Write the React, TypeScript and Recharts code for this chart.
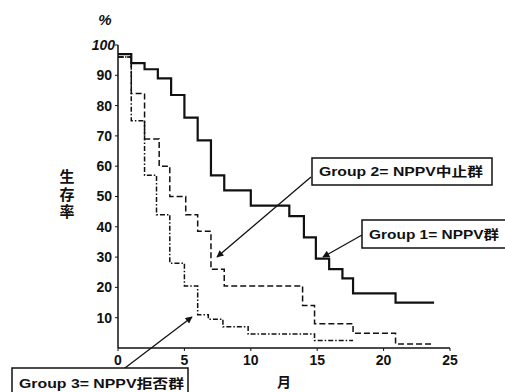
import { LineChart, Line, XAxis, YAxis } from "recharts";

// Kaplan-Meier style survival curves (months vs %)
const group1Months = [0, 1, 2, 3, 4, 5, 6, 7, 8, 10, 12.9, 14, 14.9, 15.9, 16.9, 17.7, 20.9, 23.8];
const group1Survival = [97, 94, 92, 89, 83.5, 76, 68.5, 57, 52, 47, 43.5, 36.5, 29.5, 26, 23, 18, 15, 15];

const group2Months = [0, 1, 2, 3.1, 3.9, 5.1, 6, 7, 8, 13.9, 14.8, 17.7, 20.9, 23.8];
const group2Survival = [96, 84, 69, 60, 50, 44, 38.5, 26, 20.5, 14, 8, 4.9, 1.3, 1.3];

const group3Months = [0, 1, 2, 2.9, 3.9, 5, 6, 6.8, 7.9, 9.8, 14.8, 17.7];
const group3Survival = [96, 75, 57, 44, 28, 20.5, 11, 9.5, 7, 4.6, 2.5, 2.5];

const xTicks = [0, 5, 10, 15, 20, 25];
const yTicks = [10, 20, 30, 40, 50, 60, 70, 80, 90, 100];

const toPoints = (months: number[], values: number[]) =>
  months.map((m, i) => ({ m, v: values[i] }));

const group1 = toPoints(group1Months, group1Survival);
const group2 = toPoints(group2Months, group2Survival);
const group3 = toPoints(group3Months, group3Survival);

const INK = "#111";
const FONT = "'Liberation Sans', Arial, sans-serif";
const CJK = "'Liberation Sans', 'Noto Sans CJK JP', sans-serif";

const YTick = (props: any) => {
  const { x, y, payload } = props;
  const top = payload.value === 100;
  return (
    <text
      x={top ? x + 3 : x}
      y={y}
      dy="0.35em"
      textAnchor="end"
      fill={INK}
      fontFamily={FONT}
      fontSize={14}
      fontWeight="bold"
      fontStyle={top ? "italic" : "normal"}
    >
      {payload.value}
    </text>
  );
};

const Arrow = ({ x1, y1, x2, y2 }: { x1: number; y1: number; x2: number; y2: number }) => (
  <line x1={x1} y1={y1} x2={x2} y2={y2} stroke={INK} strokeWidth={1.3} markerEnd="url(#head)" />
);

const Box = ({ x, y, w, h, text, tw }: { x: number; y: number; w: number; h: number; text: string; tw: number }) => (
  <g>
    <rect x={x} y={y} width={w} height={h} fill="#fff" stroke={INK} strokeWidth={1.5} />
    <text
      x={x + 7}
      y={y + h / 2}
      dy="0.36em"
      fontFamily={CJK}
      fontSize={13}
      fontWeight="bold"
      fill={INK}
      textLength={tw}
      lengthAdjust="spacingAndGlyphs"
    >
      {text}
    </text>
  </g>
);

export default function App() {
  return (
    <div style={{ position: "absolute", left: 0, top: 0, width: 505, height: 392, background: "#fff" }}>
      <LineChart width={505} height={392} margin={{ top: 45, right: 55, bottom: 0, left: 0 }}>
        <XAxis
          type="number"
          dataKey="m"
          domain={[0, 25]}
          ticks={xTicks}
          allowDataOverflow
          height={44}
          tickSize={3}
          tickMargin={4}
          axisLine={{ stroke: INK, strokeWidth: 1.5 }}
          tickLine={{ stroke: INK }}
          tick={{ fill: INK, fontSize: 14, fontWeight: "bold", fontFamily: FONT }}
        />
        <YAxis
          type="number"
          domain={[0, 100]}
          ticks={yTicks}
          width={118}
          tickSize={3}
          tickMargin={3}
          axisLine={{ stroke: INK, strokeWidth: 1.5 }}
          tickLine={{ stroke: INK }}
          tick={<YTick />}
        />
        <Line data={group1} dataKey="v" type="stepAfter" stroke={INK} strokeWidth={2.2} dot={false} isAnimationActive={false} />
        <Line data={group2} dataKey="v" type="stepAfter" stroke={INK} strokeWidth={1.5} strokeDasharray="6 3" dot={false} isAnimationActive={false} />
        <Line data={group3} dataKey="v" type="stepAfter" stroke={INK} strokeWidth={1.5} strokeDasharray="5 2 1.5 2" dot={false} isAnimationActive={false} />
      </LineChart>

      <svg width={505} height={392} style={{ position: "absolute", left: 0, top: 0, pointerEvents: "none" }}>
        <defs>
          <marker id="head" viewBox="0 0 10 10" refX="9" refY="5" markerWidth="9" markerHeight="7" orient="auto-start-reverse" markerUnits="userSpaceOnUse">
            <path d="M0,0 L10,5 L0,10 z" fill={INK} />
          </marker>
        </defs>
        <text x={105} y={25} textAnchor="middle" fontFamily={FONT} fontSize={15} fontWeight="bold" fontStyle="italic" fill={INK}>%</text>
        <text
          x={67}
          y={169}
          fontFamily="'Noto Sans CJK JP', sans-serif"
          fontSize={15}
          fontWeight="bold"
          fill={INK}
          letterSpacing={2.5}
          style={{ writingMode: "vertical-rl" }}
        >
          生存率
        </text>
        <text x={284} y={387} textAnchor="middle" fontFamily="'Noto Sans CJK JP', sans-serif" fontSize={14} fontWeight="bold" fill={INK}>月</text>

        <Arrow x1={311} y1={177} x2={217} y2={257} />
        <Arrow x1={362} y1={235} x2={323} y2={257} />
        <Arrow x1={121} y1={371} x2={192} y2={317} />

        <Box x={312} y={158} w={180} h={27} text="Group 2= NPPV中止群" tw={164} />
        <Box x={362} y={220} w={145} h={28} text="Group 1= NPPV群" tw={130} />
        <Box x={12} y={368} w={176} h={30} text="Group 3= NPPV拒否群" tw={165} />
      </svg>
    </div>
  );
}
